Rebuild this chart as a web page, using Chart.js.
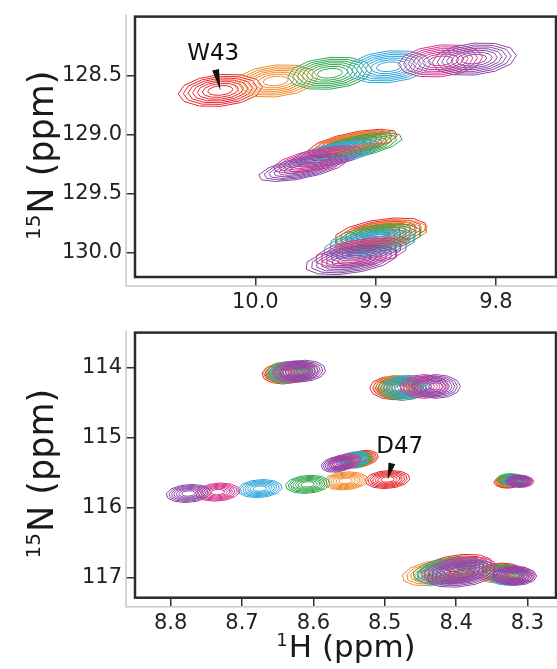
<!DOCTYPE html>
<html>
<head>
<meta charset="utf-8">
<script src="https://cdn.jsdelivr.net/npm/chart.js@4.4.1/dist/chart.umd.min.js"></script>
<style>
  body { margin: 0; background: #fff; width: 557px; height: 669px; overflow: hidden; position: relative; }
  canvas { position: absolute; left: 0; }
  #topChart { top: 0; }
  #bottomChart { top: 316px; }
</style>
</head>
<body>
<canvas id="topChart" width="557" height="318"></canvas>
<canvas id="bottomChart" width="557" height="353"></canvas>
<script>
// six titration steps, drawn red -> purple
const seriesColors = ["#e8262b", "#f28a2c", "#31a84b", "#2ea6de", "#d8368c", "#8a47a6"];
const contourLevels = [1, 0.88, 0.77, 0.66, 0.55, 0.43, 0.3];

// top panel: 1H / 15N shifts (ppm), one value per titration step
const topTicksH = [10.0, 9.9, 9.8];
const topTicksN = [128.5, 129.0, 129.5, 130.0];
const w43H = [10.029, 9.983, 9.938, 9.889, 9.846, 9.818];
const w43N = [128.625, 128.545, 128.48, 128.425, 128.375, 128.36];
const peakBH = [9.919, 9.92, 9.915, 9.933, 9.948, 9.96];
const peakBN = [129.07, 129.08, 129.1, 129.16, 129.21, 129.28];
const peakCH = [9.896, 9.895, 9.9, 9.905, 9.912, 9.92];
const peakCN = [129.83, 129.85, 129.88, 129.93, 130.0, 130.06];
// peak half widths (ppm) and skew per peak
const topHalfH = [0.035, 0.037, 0.037];
const topHalfN = [0.135, 0.1, 0.125];
const topTilt = [0.03, 0.06, 0.02];
const topShear = [0, 0.15, 0.3];

// bottom panel
const botTicksH = [8.8, 8.7, 8.6, 8.5, 8.4, 8.3];
const botTicksN = [114, 115, 116, 117];
const p1H = [8.64, 8.638, 8.635, 8.63, 8.625, 8.615];
const p1N = [114.08, 114.07, 114.07, 114.06, 114.06, 114.05];
const p2H = [8.487, 8.482, 8.476, 8.468, 8.445, 8.428];
const p2N = [114.29, 114.28, 114.3, 114.28, 114.27, 114.27];
const p3H = [8.532, 8.537, 8.54, 8.545, 8.556, 8.566];
const p3N = [115.3, 115.32, 115.32, 115.32, 115.35, 115.38];
const d47H = [8.496, 8.555, 8.608, 8.675, 8.734, 8.775];
const d47N = [115.6, 115.62, 115.67, 115.73, 115.78, 115.8];
const p5H = [8.328, 8.326, 8.324, 8.316, 8.31, 8.312];
const p5N = [115.64, 115.62, 115.6, 115.62, 115.63, 115.62];
const p6H = [8.4, 8.425, 8.41, 8.405, 8.395, 8.39];
const p6N = [116.86, 116.93, 116.9, 116.92, 116.9, 116.95];
const p7H = [8.335, 8.34, 8.33, 8.325, 8.32, 8.318];
const p7N = [116.93, 116.95, 116.95, 116.98, 116.97, 116.98];
const botHalfH = [0.032, 0.034, 0.023, 0.031, 0.019, 0.05, 0.031];
const botHalfN = [0.155, 0.17, 0.115, 0.13, 0.085, 0.19, 0.135];
const botTilt = [0, 0, 0.02, 0, 0, 0.03, 0];
const botShear = [0.1, 0, 0.1, 0.15, 0, 0.2, 0];

// labelled residues: text, label position, arrow base (ppm)
const w43Label = ["W43", 10.035, 128.317];
const w43Arrow = [10.033, 128.45];
const d47Label = ["D47", 8.479, 115.134];
const d47Arrow = [8.49, 115.37];

function contourPoints(h, n, wH, wN, tilt, shear, f) {
  const pts = [];
  for (let k = 0; k <= 12; k++) {
    const t = k * Math.PI / 6;
    const c = Math.cos(t), s = Math.sin(t);
    pts.push({ x: h - f * wH * c + shear * f * wH * s, y: n + f * wN * s - tilt * f * c });
  }
  return pts;
}

function buildDatasets(hs, ns, halfH, halfN, tilt, shear) {
  const ds = [];
  hs.forEach((hArr, g) => {
    hArr.forEach((h, i) => {
      contourLevels.forEach(f => {
        ds.push({
          data: contourPoints(h, ns[g][i], halfH[g], halfN[g], tilt[g], shear[g], f),
          borderColor: seriesColors[i],
          borderWidth: 1,
          showLine: true,
          pointRadius: 0,
          fill: false,
          tension: 0,
          order: seriesColors.length - 1 - i,
        });
      });
    });
  });
  return ds;
}

const frame = {
  id: "frame",
  afterDraw(chart, args, opts) {
    const { ctx, chartArea: a, scales } = chart;
    ctx.save();
    // light axis lines, offset from the panel
    ctx.strokeStyle = "#c9c9c9";
    ctx.lineWidth = 1.5;
    ctx.beginPath();
    ctx.moveTo(a.left - 9, a.top - 2);
    ctx.lineTo(a.left - 9, a.bottom + 9);
    ctx.lineTo(chart.width, a.bottom + 9);
    ctx.stroke();
    // panel border
    ctx.strokeStyle = "#2b2b2b";
    ctx.lineWidth = 2.5;
    ctx.strokeRect(a.left, a.top, a.right - a.left, a.bottom - a.top);

    // residue label + wedge pointer
    const L = opts.label, base = opts.arrow, tip = opts.tip;
    ctx.fillStyle = "#111";
    ctx.font = "23px 'DejaVu Sans'";
    ctx.textAlign = "center";
    ctx.textBaseline = "middle";
    ctx.fillText(L[0], scales.x.getPixelForValue(L[1]), scales.y.getPixelForValue(L[2]));
    const bx = scales.x.getPixelForValue(base[0]), by = scales.y.getPixelForValue(base[1]);
    const tx = scales.x.getPixelForValue(tip[0]), ty = scales.y.getPixelForValue(tip[1]);
    const len = Math.hypot(tx - bx, ty - by);
    const px = -(ty - by) / len * 3.5, py = (tx - bx) / len * 3.5;
    ctx.beginPath();
    ctx.moveTo(bx + px, by + py);
    ctx.lineTo(bx - px, by - py);
    ctx.lineTo(tx, ty);
    ctx.closePath();
    ctx.fill();

    // axis titles with superscripts
    ctx.fillStyle = "#1a1a1a";
    ctx.textAlign = "left";
    ctx.textBaseline = "alphabetic";
    const drawSup = (sup, main, big, small, rise) => {
      ctx.font = small + "px 'DejaVu Sans'";
      const ws = ctx.measureText(sup).width;
      ctx.font = big + "px 'DejaVu Sans'";
      const wm = ctx.measureText(main).width;
      const x0 = -(ws + wm) / 2;
      ctx.font = small + "px 'DejaVu Sans'";
      ctx.fillText(sup, x0, -rise);
      ctx.font = big + "px 'DejaVu Sans'";
      ctx.fillText(main, x0 + ws + 1, 0);
    };
    ctx.save();
    ctx.translate(opts.yTitleX, (a.top + a.bottom) / 2 + 9);
    ctx.rotate(-Math.PI / 2);
    drawSup(opts.yTitle[0], opts.yTitle[1], 35, 20, 13);
    ctx.restore();
    if (opts.xTitle) {
      ctx.save();
      ctx.translate((a.left + a.right) / 2, opts.xTitleY);
      drawSup(opts.xTitle[0], opts.xTitle[1], 31, 18, 11);
      ctx.restore();
    }
    ctx.restore();
  }
};

Chart.defaults.font.family = "'DejaVu Sans'";

function axes(minH, maxH, ticksH, minN, maxN, ticksN, digitsN, xHeight) {
  const tickStyle = { drawOnChartArea: false, drawTicks: true, tickLength: 9, color: "#333", lineWidth: 1.5 };
  return {
    x: {
      type: "linear", reverse: true, min: minH, max: maxH,
      grid: tickStyle, border: { display: false },
      afterBuildTicks: s => { s.ticks = ticksH.map(v => ({ value: v })); },
      afterFit: s => { s.height = xHeight; },
      ticks: { padding: 4, color: "#222", font: { size: 21 }, autoSkip: false, maxRotation: 0,
        callback: v => v.toFixed(1) },
    },
    y: {
      type: "linear", reverse: true, min: minN, max: maxN,
      grid: tickStyle, border: { display: false },
      afterBuildTicks: s => { s.ticks = ticksN.map(v => ({ value: v })); },
      afterFit: s => { s.width = 135; },
      ticks: { padding: 4, color: "#222", font: { size: 21 }, autoSkip: false,
        callback: v => v.toFixed(digitsN) },
    },
  };
}

new Chart(document.getElementById("topChart"), {
  type: "scatter",
  data: { datasets: buildDatasets([w43H, peakBH, peakCH], [w43N, peakBN, peakCN], topHalfH, topHalfN, topTilt, topShear) },
  options: {
    responsive: false, animation: false, events: [],
    layout: { padding: { left: 0, right: 1, top: 12, bottom: 0 } },
    scales: axes(9.75, 10.1, topTicksH, 128.0, 130.205, topTicksN, 1, 41),
    plugins: {
      legend: { display: false }, tooltip: { enabled: false },
      frame: { label: w43Label, arrow: w43Arrow, tip: [w43H[0], w43N[0]], yTitle: ["15", "N (ppm)"], yTitleX: 53 },
    },
  },
  plugins: [frame],
});

new Chart(document.getElementById("bottomChart"), {
  type: "scatter",
  data: { datasets: buildDatasets([p1H, p2H, p3H, d47H, p5H, p6H, p7H], [p1N, p2N, p3N, d47N, p5N, p6N, p7N], botHalfH, botHalfN, botTilt, botShear) },
  options: {
    responsive: false, animation: false, events: [],
    layout: { padding: { left: 0, right: 1, top: 10, bottom: 0 } },
    scales: axes(8.26, 8.85, botTicksH, 113.5, 117.29, botTicksN, 0, 71.3),
    plugins: {
      legend: { display: false }, tooltip: { enabled: false },
      frame: { label: d47Label, arrow: d47Arrow, tip: [d47H[0], d47N[0]], yTitle: ["15", "N (ppm)"], yTitleX: 53,
        xTitle: ["1", "H (ppm)"], xTitleY: 341 },
    },
  },
  plugins: [frame],
});
</script>
</body>
</html>
